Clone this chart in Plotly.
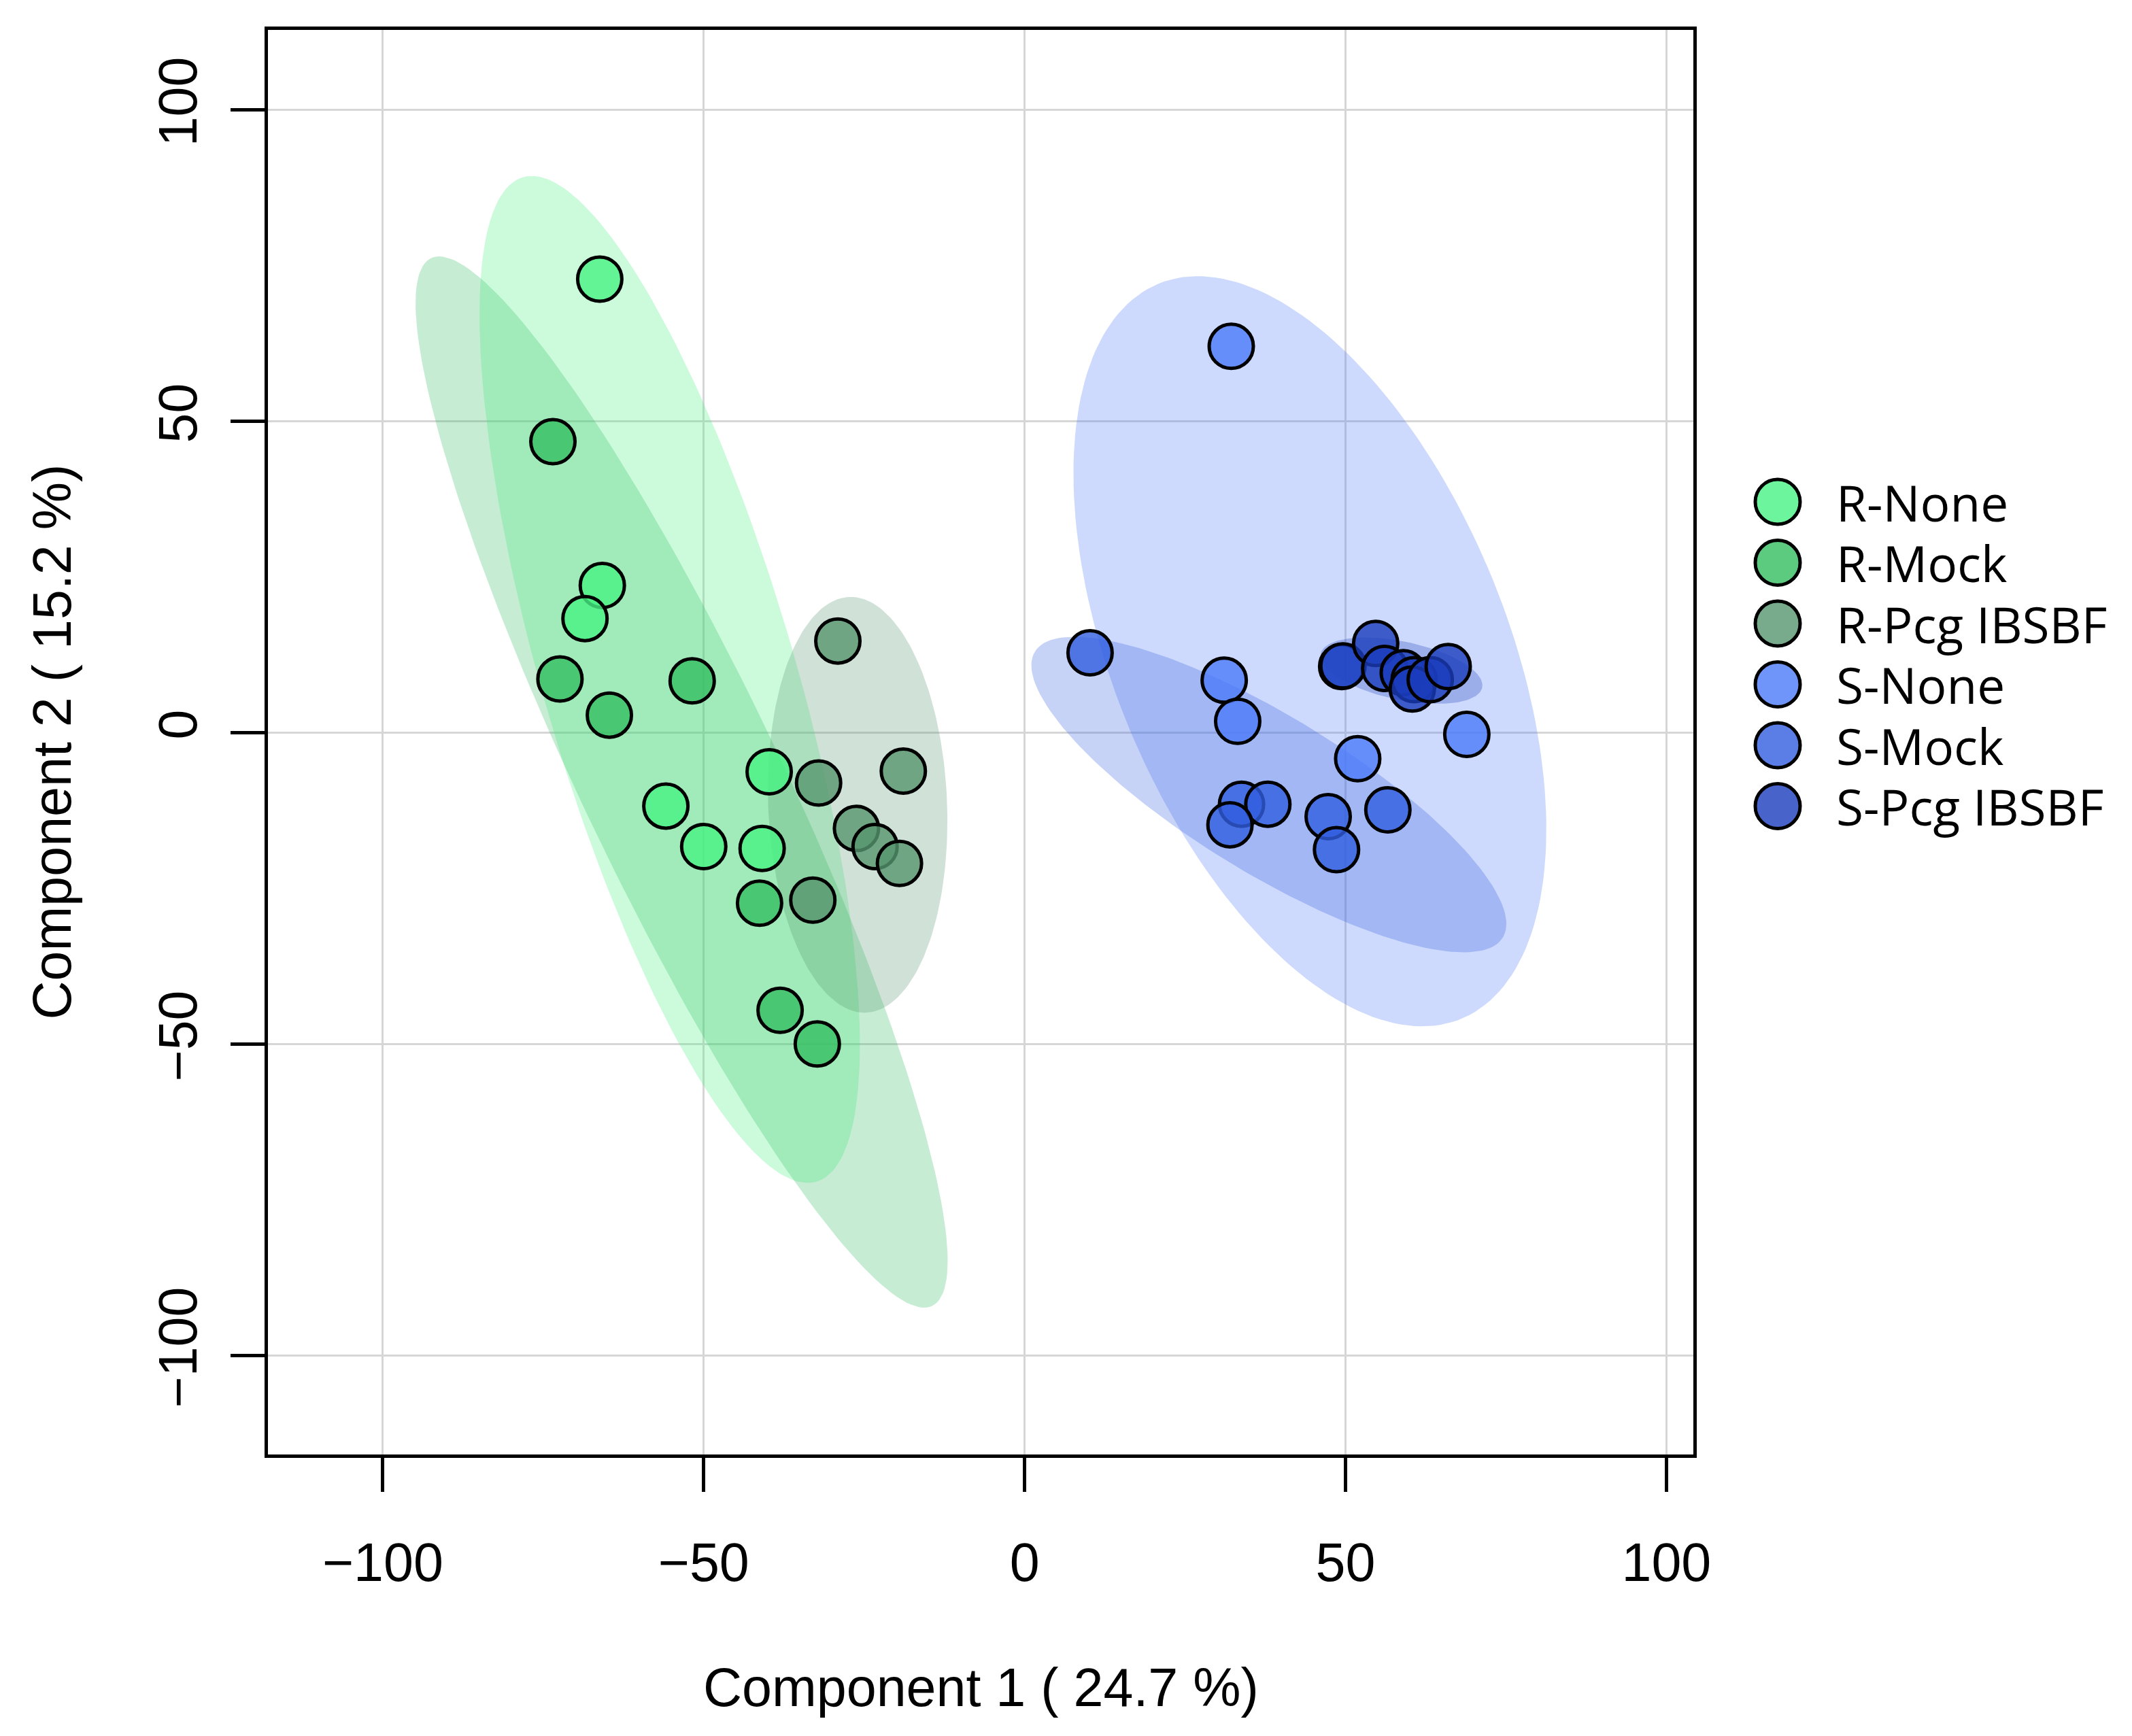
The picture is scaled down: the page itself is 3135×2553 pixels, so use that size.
import numpy as np
import plotly.graph_objects as go

# sample scores on the first two components, one pair of lists per group
groups = ["R-None", "R-Mock", "R-Pcg IBSBF", "S-None", "S-Mock", "S-Pcg IBSBF"]

r_none_x = [-66.2, -65.8, -68.5, -39.8, -55.9, -50.0, -40.9]
r_none_y = [72.8, 23.6, 18.3, -6.3, -11.8, -18.3, -18.6]

r_mock_x = [-73.5, -72.4, -64.7, -51.8, -41.3, -38.1, -32.3]
r_mock_y = [46.7, 8.6, 2.8, 8.3, -27.4, -44.6, -50.0]

r_pcg_x = [-29.1, -32.1, -18.9, -26.2, -23.3, -19.5, -33.0]
r_pcg_y = [14.7, -8.1, -6.2, -15.4, -18.3, -21.0, -26.9]

s_none_x = [32.2, 31.1, 33.2, 51.9, 68.9, 49.4]
s_none_y = [62.0, 8.4, 1.8, -4.2, -0.3, 10.6]

s_mock_x = [10.2, 33.8, 37.9, 32.0, 47.3, 48.6, 56.6]
s_mock_y = [12.8, -11.5, -11.5, -14.8, -13.5, -18.8, -12.4]

s_pcg_x = [49.6, 54.7, 56.1, 59.0, 60.7, 60.4, 63.2, 66.0]
s_pcg_y = [10.7, 14.3, 10.3, 9.6, 8.5, 7.0, 8.5, 10.6]

group_x = [r_none_x, r_mock_x, r_pcg_x, s_none_x, s_mock_x, s_pcg_x]
group_y = [r_none_y, r_mock_y, r_pcg_y, s_none_y, s_mock_y, s_pcg_y]

colors = ["#47F283", "#33BE60", "#56966E", "#4C7AF9", "#315EE0", "#1A3CBC"]

x_title = "Component 1 ( 24.7 %)"
y_title = "Component 2 ( 15.2 %)"

ELLIPSE_LEVEL = 0.95


def hex_to_rgba(hex_color, alpha):
    h = hex_color.lstrip("#")
    r, g, b = (int(h[i:i + 2], 16) for i in (0, 2, 4))
    return f"rgba({r},{g},{b},{alpha})"


def confidence_ellipse(x, y, level=ELLIPSE_LEVEL, npoints=200):
    """Same construction as ellipse::ellipse() used by mixOmics."""
    x = np.asarray(x)
    y = np.asarray(y)
    cov = np.cov(x, y)
    t = np.sqrt(-2 * np.log(1 - level))  # sqrt(qchisq(level, 2))
    scale = np.sqrt(np.diag(cov))
    r = cov[0, 1] / (scale[0] * scale[1])
    d = np.arccos(r)
    a = np.linspace(0, 2 * np.pi, npoints)
    ex = t * scale[0] * np.cos(a + d / 2) + x.mean()
    ey = t * scale[1] * np.cos(a - d / 2) + y.mean()
    return ex, ey


fig = go.Figure()

# ellipses under the points
for name, xs, ys, col in zip(groups, group_x, group_y, colors):
    ex, ey = confidence_ellipse(xs, ys)
    fig.add_trace(go.Scatter(
        x=ex, y=ey, mode="lines", fill="toself",
        fillcolor=hex_to_rgba(col, 0.28),
        line=dict(width=0), hoverinfo="skip", showlegend=False,
    ))

for name, xs, ys, col in zip(groups, group_x, group_y, colors):
    fig.add_trace(go.Scatter(
        x=xs, y=ys, mode="markers", name=name,
        marker=dict(size=65, color=hex_to_rgba(col, 0.8),
                    line=dict(color="black", width=5)),
        showlegend=False,
    ))

axis_common = dict(
    showgrid=True, gridcolor="#d6d6d6", gridwidth=3,
    zeroline=False, showline=True, linecolor="black", linewidth=4.5,
    mirror=True, ticks="outside", ticklen=50, tickwidth=4.5,
    tickcolor="black", dtick=50, tick0=0,
    tickfont=dict(family="Liberation Sans", size=79, color="black"),
)

fig.update_xaxes(range=[-117.9, 104.2], ticklabelstandoff=36, **axis_common)
fig.update_yaxes(range=[-115.9, 112.8], tickangle=-90,
                 ticklabelstandoff=19, **axis_common)

title_font = dict(family="Liberation Sans", size=79, color="black")
fig.add_annotation(text=x_title, xref="paper", yref="paper", x=0.5, y=0,
                   xanchor="center", yanchor="middle", yshift=-342,
                   showarrow=False, font=title_font)
fig.add_annotation(text=y_title, xref="paper", yref="paper", x=0, y=0.5,
                   xanchor="center", yanchor="middle", xshift=-318,
                   textangle=-90, showarrow=False, font=title_font)

# legend drawn by hand so the symbols keep the size of the plotted points
legend_top = 694     # px below the top of the plot area, first row
legend_step = 89.5
sym_r = 33
for i, (name, col) in enumerate(zip(groups, colors)):
    cy = -(legend_top + i * legend_step)
    fig.add_shape(type="circle", xref="paper", yref="paper",
                  xsizemode="pixel", ysizemode="pixel",
                  xanchor=1, yanchor=1,
                  x0=124 - sym_r, x1=124 + sym_r,
                  y0=cy - sym_r, y1=cy + sym_r,
                  fillcolor=hex_to_rgba(col, 0.8),
                  line=dict(color="black", width=5))
    fig.add_annotation(text=name, xref="paper", yref="paper", x=1, y=1,
                       xanchor="left", yanchor="middle",
                       xshift=208, yshift=cy, showarrow=False,
                       font=dict(family="Open Sans", size=73, color="black"))

fig.update_layout(
    width=3119, height=2537, autosize=False,
    margin=dict(l=386, r=637, t=36, b=406),
    plot_bgcolor="white", paper_bgcolor="white",
    showlegend=False,
)

fig.write_html("out.html")
